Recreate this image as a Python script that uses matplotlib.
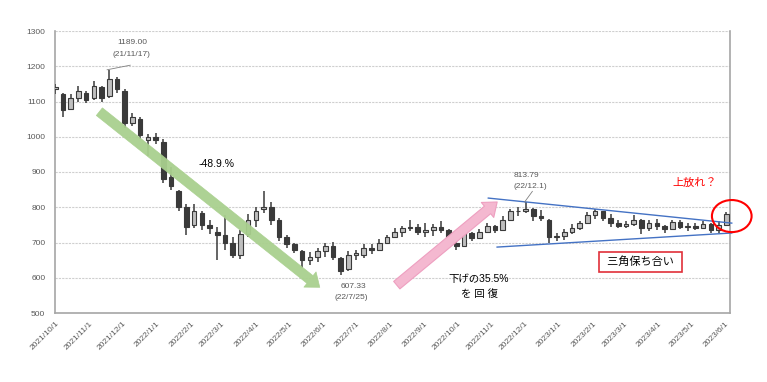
import matplotlib
matplotlib.use("Agg")
import matplotlib.pyplot as plt
import matplotlib.dates as mdates
from matplotlib.patches import Ellipse
import pandas as pd
import numpy as np

plt.rcParams['font.family'] = ['Liberation Sans', 'Noto Sans CJK JP', 'DejaVu Sans']

# ---- data (weekly candles) ----
week_start = "2021-10-01"
opens = [1135, 1120, 1080, 1110, 1125, 1110, 1140, 1115, 1165, 1130,
         1040, 1050, 990, 1000, 985, 885, 845, 800, 750, 785,
         750, 730, 720, 700, 665, 725, 765, 795, 800, 765,
         715, 695, 675, 650, 660, 675, 690, 655, 625, 665,
         665, 685, 680, 700, 715, 730, 740, 745, 730, 735,
         745, 735, 700, 690, 728, 712, 730, 748, 735, 765,
         788, 790, 795, 775, 765, 715, 718, 730, 740, 755,
         778, 788, 770, 755, 748, 752, 765, 740, 755, 748,
         738, 758, 745, 748, 742, 752, 735, 750]
highs = [1150, 1125, 1122, 1145, 1130, 1158, 1145, 1189, 1170, 1135,
         1068, 1055, 1008, 1010, 995, 915, 850, 810, 810, 790,
         765, 745, 778, 715, 735, 780, 800, 845, 815, 770,
         720, 698, 680, 672, 685, 700, 702, 660, 675, 678,
         695, 695, 710, 722, 742, 748, 765, 752, 755, 752,
         760, 738, 708, 738, 730, 738, 756, 750, 775, 795,
         800, 814, 798, 792, 768, 728, 738, 752, 762, 786,
         795, 790, 782, 765, 760, 778, 768, 765, 766, 750,
         765, 764, 756, 756, 760, 754, 760, 786]
lows = [1120, 1055, 1078, 1100, 1095, 1105, 1098, 1110, 1125, 1025,
        1030, 995, 945, 980, 870, 850, 790, 722, 742, 735,
        725, 650, 680, 655, 652, 715, 745, 785, 750, 705,
        685, 670, 628, 635, 645, 660, 650, 607, 620, 650,
        655, 668, 678, 695, 712, 716, 732, 720, 716, 718,
        728, 692, 680, 688, 705, 710, 728, 728, 733, 762,
        775, 785, 762, 760, 700, 705, 708, 725, 735, 752,
        768, 760, 745, 740, 740, 748, 725, 733, 735, 728,
        735, 738, 734, 736, 740, 728, 728, 748]
closes = [1140, 1075, 1110, 1130, 1105, 1145, 1110, 1165, 1135, 1040,
          1055, 1005, 1000, 990, 880, 860, 800, 745, 790, 750,
          740, 720, 700, 665, 725, 765, 790, 800, 765, 715,
          695, 680, 650, 660, 675, 690, 660, 620, 665, 670,
          685, 680, 700, 715, 730, 740, 745, 730, 735, 745,
          735, 700, 690, 728, 712, 730, 748, 735, 765, 788,
          790, 795, 775, 770, 715, 718, 730, 740, 755, 778,
          788, 770, 755, 748, 752, 765, 740, 755, 748, 738,
          758, 745, 748, 742, 752, 735, 750, 780]

y_ticks = [500, 600, 700, 800, 900, 1000, 1100, 1200, 1300]
x_tick_dates = pd.date_range("2021-10-01", "2023-06-01", freq="MS")
x_tick_labels = [f"{d.year}/{d.month}/1" for d in x_tick_dates]

dates = pd.date_range(week_start, periods=len(closes), freq="7D")

# ---- figure ----
fig = plt.figure(figsize=(7.67, 3.82), dpi=100)
ax = fig.add_axes([55/767, 69/382, 675/767, 282/382])

xn = mdates.date2num(dates)
o = np.array(opens); h = np.array(highs); l = np.array(lows); c = np.array(closes)
up = c >= o
dark = '#3A3A3A'
ax.vlines(xn, l, h, color=dark, lw=1.1, zorder=3)
bw = 4.2
ax.bar(xn[up], (c - o)[up], bottom=o[up], width=bw, color='#BFBFBF',
       edgecolor=dark, linewidth=0.8, zorder=4)
ax.bar(xn[~up], (o - c)[~up], bottom=c[~up], width=bw, color=dark,
       edgecolor=dark, linewidth=0.8, zorder=4)

# axes styling
ax.set_ylim(500, 1300)
ax.set_xlim(mdates.date2num(pd.Timestamp("2021-10-01")) - 0.3,
            mdates.date2num(pd.Timestamp("2023-06-05")) + 0.4)
ax.set_yticks(y_ticks)
ax.set_yticklabels([str(v) for v in y_ticks])
ax.set_xticks(mdates.date2num(x_tick_dates))
ax.set_xticklabels(x_tick_labels, rotation=45, ha='right', va='top',
                   rotation_mode='anchor')
ax.tick_params(axis='both', length=0, labelsize=6, labelcolor='#595959')
ax.tick_params(axis='y', pad=7)
ax.tick_params(axis='x', pad=5)
ax.grid(axis='y', color='#CFCFCF', linestyle=(0, (2, 1)), linewidth=0.8, zorder=0)
ax.set_axisbelow(True)
for s in ax.spines.values():
    s.set_color('#A6A6A6')
    s.set_linewidth(1.2)
ax.spines['top'].set_visible(False)

def D(s):
    return mdates.date2num(pd.Timestamp(s))

# green arrow (down move)
ax.annotate('', xy=(D("2022-05-31"), 568), xytext=(D("2021-11-08"), 1076),
            arrowprops=dict(arrowstyle='simple,head_width=1.4,head_length=0.9,tail_width=0.7',
                            mutation_scale=10, fc='#A9D08E', ec='#A9D08E', lw=0.5, alpha=0.95),
            zorder=5)
# pink arrow (recovery)
ax.annotate('', xy=(D("2022-11-08"), 820), xytext=(D("2022-08-05"), 574),
            arrowprops=dict(arrowstyle='simple,head_width=1.4,head_length=0.9,tail_width=0.7',
                            mutation_scale=10, fc='#F4B8D0', ec='#EE9FC0', lw=0.8),
            zorder=5)

# triangle lines
ax.plot([D("2022-10-29"), D("2023-06-07")], [826, 755], color='#4472C4', lw=1.0,
        zorder=6, clip_on=False)
ax.plot([D("2022-11-06"), D("2023-06-07")], [687, 727], color='#4472C4', lw=1.0,
        zorder=6, clip_on=False)

# texts
grey = '#595959'
ax.text(D("2021-12-10"), 1266, "1189.00", fontsize=6, color=grey, ha='center', va='center')
ax.text(D("2021-12-09"), 1232, "(21/11/17)", fontsize=6, color=grey, ha='center', va='center')
ax.plot([D("2021-11-17"), D("2021-12-08")], [1190, 1203], color='#808080', lw=0.6, zorder=6)

ax.text(D("2022-06-29"), 574, "607.33", fontsize=6, color=grey, ha='center', va='center')
ax.text(D("2022-06-27"), 543, "(22/7/25)", fontsize=6, color=grey, ha='center', va='center')

ax.text(D("2022-12-03"), 891, "813.79", fontsize=6, color=grey, ha='center', va='center')
ax.text(D("2022-12-06"), 859, "(22/12.1)", fontsize=6, color=grey, ha='center', va='center')
ax.plot([D("2022-12-01"), D("2022-12-08")], [815, 845], color='#808080', lw=0.6, zorder=6)

ax.text(D("2022-02-24"), 923, "-48.9.%", fontsize=7.5, color='black', ha='center', va='center')
ax.text(D("2022-10-20"), 596, "下げの35.5%", fontsize=7.5, color='black', ha='center', va='center')
ax.text(D("2022-10-21"), 554, "を 回 復", fontsize=7.5, color='black', ha='center', va='center')

ax.text(D("2023-03-16"), 645, " 三角保ち合い ", fontsize=8, color='black', ha='center', va='center',
        bbox=dict(boxstyle='square,pad=0.45', fc='white', ec='#E0303A', lw=1.2), zorder=7)
ax.text(D("2023-05-04"), 869, "上放れ？", fontsize=8, color='#FF0000', ha='center', va='center')

ell = Ellipse((D("2023-06-07"), 775), width=36, height=91, fill=False,
              ec='#FF0000', lw=1.5, clip_on=False, zorder=8)
ax.add_patch(ell)

fig.savefig("out.png", dpi=100)
